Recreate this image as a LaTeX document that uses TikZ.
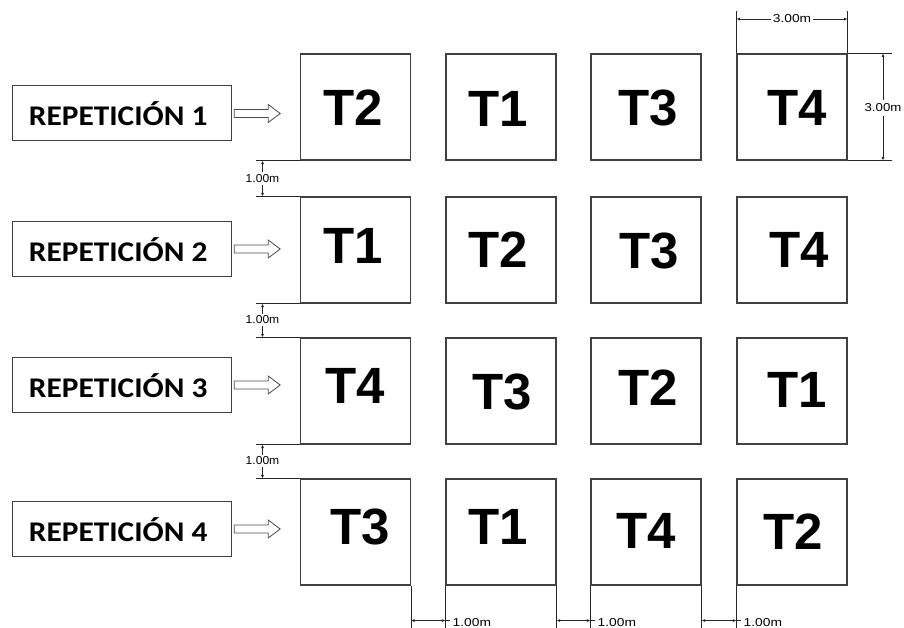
\documentclass[tikz,border=0pt]{standalone}
\usepackage{fontspec}
\setmainfont{Liberation Sans}
\newfontfamily\repfont{Carlito}
\usetikzlibrary{arrows.meta,calc}
\begin{document}
\begin{tikzpicture}[x=1pt,y=-1pt,
  plot/.style={draw=black!75, line width=1.1pt, minimum width=110pt, minimum height=106pt, inner sep=0pt},
  tlabel/.style={font=\fontsize{51}{51}\selectfont\bfseries, inner sep=0pt},
  repbox/.style={draw=black!75, line width=1pt, minimum width=219pt, minimum height=55pt, inner sep=0pt},
  reptext/.style={font=\repfont\bfseries\fontsize{28.5}{28.5}\selectfont, inner sep=0pt},
  hollow/.style={draw=black!70, line width=0.8pt, fill=white, line join=miter},
  dimline/.style={draw=black!85, line width=0.7pt},
  dimtip/.style={-{Latex[length=3.5pt,width=3pt]}},
  dimtext/.style={font=\fontsize{11.5}{11.5}\selectfont, inner sep=2pt},
]
\useasboundingbox (0,0) rectangle (904,628);
% plots
\foreach \r/\yc in {1/107,2/250,3/391,4/532}
  \foreach \c/\xc in {1/355.5,2/501,3/646,4/792}
    \node[plot] (s\r\c) at (\xc,\yc) {};
% treatment labels
\node[tlabel] (t11) at (353,108) {T2};
\node[tlabel] (t12) at (498,109) {T1};
\node[tlabel] (t13) at (648,108) {T3};
\node[tlabel] (t14) at (797,108) {T4};
\node[tlabel] (t21) at (353,246) {T1};
\node[tlabel] (t22) at (498,250) {T2};
\node[tlabel] (t23) at (649,251) {T3};
\node[tlabel] (t24) at (799,250) {T4};
\node[tlabel] (t31) at (355,386) {T4};
\node[tlabel] (t32) at (502,392) {T3};
\node[tlabel] (t33) at (648,388) {T2};
\node[tlabel] (t34) at (797,390) {T1};
\node[tlabel] (t41) at (360,527) {T3};
\node[tlabel] (t42) at (498,527) {T1};
\node[tlabel] (t43) at (646,531) {T4};
\node[tlabel] (t44) at (793,532) {T2};
% repetition boxes and hollow arrows
\foreach \r/\yc in {1/113.5,2/249,3/385,4/529}{
  \node[repbox] (b\r) at (122.2,\yc) {};
  \node[reptext] (r\r) at ($(b\r.center)+(-4,0.5)$) {\scalebox{1.1}[1]{REPETICIÓN \r}};
  \draw[hollow] ($(b\r.east)+(2,0)$) ++(0,-4) -- ++(34,0) -- ++(0,-5) -- ++(12,9) -- ++(-12,9) -- ++(0,-5) -- ++(-34,0) -- cycle;
}
% left dimensions (row gaps)
\foreach \a/\b/\m in {1/2/178.5,2/3/320,3/4/461}{
  \draw[dimline] (s\a1.south west) -- ++(-44,0);
  \draw[dimline] (s\b1.north west) -- ++(-44,0);
  \node[dimtext] (dl\a) at (262.5,\m) {\scalebox{1.05}[1]{1.00m}};
  \draw[dimline,dimtip] (dl\a.north) -- (dl\a.north |- s\a1.south);
  \draw[dimline,dimtip] (dl\a.south) -- (dl\a.south |- s\b1.north);
}
% top dimension
\draw[dimline] (s14.north west) -- ++(0,-42);
\draw[dimline] (s14.north east) -- ++(0,-42);
\node[dimtext] (dtop) at (792,19) {\scalebox{1.2}[1]{3.00m}};
\draw[dimline,dimtip] (dtop.west) -- (dtop.west -| s14.north west);
\draw[dimline,dimtip] (dtop.east) -- (dtop.east -| s14.north east);
% right dimension
\draw[dimline] (s14.north east) -- ++(44,0);
\draw[dimline] (s14.south east) -- ++(44,0);
\node[dimtext, inner sep=4pt] (dright) at (883,108) {\scalebox{1.15}[1]{3.00m}};
\draw[dimline,dimtip] (dright.north) -- (dright.north |- s14.north east);
\draw[dimline,dimtip] (dright.south) -- (dright.south |- s14.south east);
% bottom dimensions (column gaps)
\foreach \a/\b in {1/2,2/3,3/4}{
  \draw[dimline] (s4\a.south east) -- ++(0,43);
  \draw[dimline] (s4\b.south west) -- ++(0,43);
  \draw[dimline,{Latex[length=3.5pt,width=3pt]}-{Latex[length=3.5pt,width=3pt]}] ($(s4\a.south east)+(0,35)$) -- ($(s4\b.south west)+(0,35)$);
  \draw[dimline] ($(s4\b.south west)+(0,35)$) -- ++(5,0);
  \node[dimtext, inner sep=0pt, anchor=west] (db\a) at ($(s4\b.south west)+(7,36.5)$) {\scalebox{1.2}[1]{1.00m}};
}
\end{tikzpicture}
\end{document}
